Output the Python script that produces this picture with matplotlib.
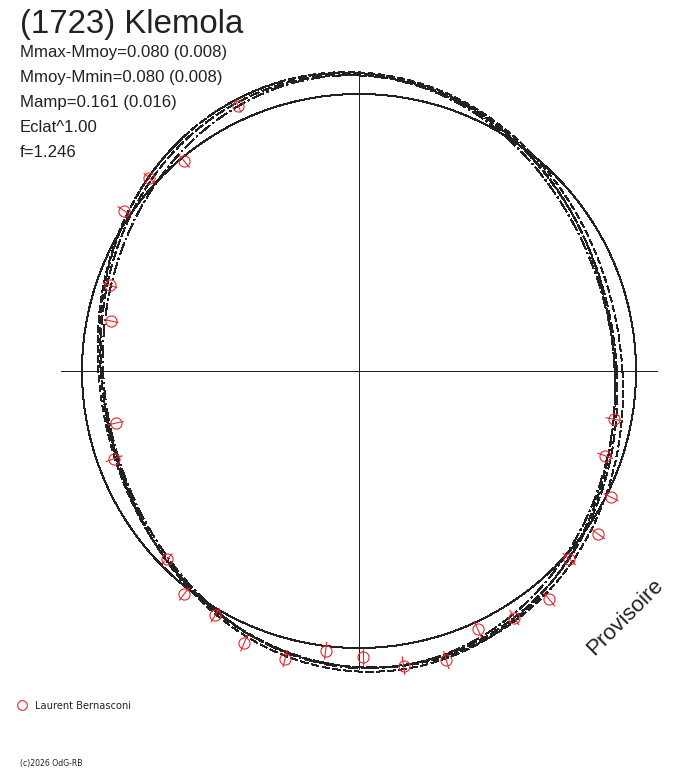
import numpy as np
import matplotlib
matplotlib.use("Agg")
import matplotlib.pyplot as plt

# ---------------- data ----------------
title = "(1723) Klemola"
stats_lines = [
    "Mmax-Mmoy=0.080 (0.008)",
    "Mmoy-Mmin=0.080 (0.008)",
    "Mamp=0.161 (0.016)",
    "Eclat^1.00",
    "f=1.246",
]
observer = "Laurent Bernasconi"
copyright_txt = "(c)2026 OdG-RB"
stamp = "Provisoire"

# observed points: polar angle (deg) and radius (relative, mean circle = 1)
obs_angle = [114.5, 129.8, 137.4, 145.7, 161.0, 168.6, 192.1, 199.7, 224.4,
             231.9, 239.5, 247.1, 255.6, 263.2, 270.9, 278.6, 286.8, 294.7,
             302.2, 309.8, 318.2, 325.7, 333.4, 341.0, 349.3]
obs_radius = [1.052, 0.986, 1.029, 1.028, 0.951, 0.913, 0.899, 0.939, 0.969,
              1.023, 1.023, 1.067, 1.072, 1.017, 1.034, 1.076, 1.090, 1.026,
              1.052, 1.073, 1.018, 1.045, 1.018, 0.940, 0.936]
obs_error = [0.025, 0.028, 0.025, 0.025, 0.025, 0.025, 0.028, 0.030, 0.025,
             0.028, 0.028, 0.030, 0.030, 0.030, 0.030, 0.032, 0.032, 0.030,
             0.030, 0.030, 0.030, 0.028, 0.028, 0.028, 0.028]

# reference circle radius
ref_radius = 1.0

# Fourier fits of the light curve: [c0, a1, b1, a2, b2, a3, b3, a4, b4]
fit_1 = [1.000, 0.000, 0.000, -0.069, -0.025, 0.000, 0.000, 0.000, 0.000]
fit_2 = [1.010, 0.005, 0.004, -0.064, -0.029, 0.000, 0.000, 0.000, 0.000]
fit_3 = [0.991, 0.000, -0.003, -0.073, -0.021, 0.000, 0.000, 0.006, 0.000]
fit_4 = [1.004, -0.005, 0.000, -0.076, -0.027, 0.000, 0.005, 0.000, 0.000]
fits = [fit_1, fit_2, fit_3, fit_4]

# ---------------- layout ----------------
W, H = 688, 768
DPI = 100
CX, CY = 359, 371          # centre in pixels
SCALE = 277.0              # pixels per unit radius
AXIS_HALF = 1.077

fig = plt.figure(figsize=(W / DPI, H / DPI), dpi=DPI)
fig.patch.set_facecolor("white")
ax = fig.add_axes([0, 0, 1, 1])
ax.set_xlim(-CX / SCALE, (W - CX) / SCALE)
ax.set_ylim(-(H - CY) / SCALE, CY / SCALE)
ax.axis("off")

ink = "#222222"
red = "#e8262e"
lw = 0.72

# axes cross
ax.plot([-AXIS_HALF, AXIS_HALF], [0, 0], color=ink, lw=lw, antialiased=False)
ax.plot([0, 0], [-AXIS_HALF, AXIS_HALF], color=ink, lw=lw, antialiased=False)

# reference circle
t = np.linspace(0, 2 * np.pi, 721)
ax.plot(ref_radius * np.cos(t), ref_radius * np.sin(t), color=ink, lw=lw,
        antialiased=False)

# Fourier fit curves
styles = [(0, (10, 3)), (0, (6, 3)), (0, (12, 3, 2, 3)), (0, (8, 4))]
for coef, ls in zip(fits, styles):
    r = (coef[0]
         + coef[1] * np.cos(t) + coef[2] * np.sin(t)
         + coef[3] * np.cos(2 * t) + coef[4] * np.sin(2 * t)
         + coef[5] * np.cos(3 * t) + coef[6] * np.sin(3 * t)
         + coef[7] * np.cos(4 * t) + coef[8] * np.sin(4 * t))
    ax.plot(r * np.cos(t), r * np.sin(t), color=ink, lw=lw, linestyle=ls,
            antialiased=False)

# observations with radial error bars
ang = np.radians(np.array(obs_angle))
rad = np.array(obs_radius)
err = np.array(obs_error)
for a, r0, e in zip(ang, rad, err):
    ax.plot([(r0 - e) * np.cos(a), (r0 + e) * np.cos(a)],
            [(r0 - e) * np.sin(a), (r0 + e) * np.sin(a)],
            color=red, lw=0.8)
ax.plot(rad * np.cos(ang), rad * np.sin(ang), linestyle="none", marker="o",
        ms=8, mfc="none", mec=red, mew=0.8)

# ---------------- texts ----------------
def fx(px):
    return px / W

def fy(py):
    return 1 - py / H

font = "Liberation Sans"
fig.text(fx(20), fy(33), title, fontsize=23.8, family=font, color=ink,
         va="baseline", ha="left")
for i, s in enumerate(stats_lines):
    fig.text(fx(20), fy(57 + 25 * i), s, fontsize=12.1, family=font, color=ink,
             va="baseline", ha="left")

fig.text(fx(625), fy(617), stamp, fontsize=16, family=font, color=ink,
         rotation=45, rotation_mode="anchor", ha="center", va="center")

# legend entry
fig.lines.append(matplotlib.lines.Line2D([fx(22)], [fy(705)], marker="o", ms=7,
                                         mfc="none", mec=red, mew=0.8,
                                         transform=fig.transFigure))
fig.text(fx(35), fy(709), observer, fontsize=7.1, family="DejaVu Sans", color=ink,
         va="baseline", ha="left")
fig.text(fx(20), fy(766), copyright_txt, fontsize=5.6, family="DejaVu Sans",
         color=ink, va="baseline", ha="left")

fig.savefig("out.png", dpi=DPI, facecolor="white")
